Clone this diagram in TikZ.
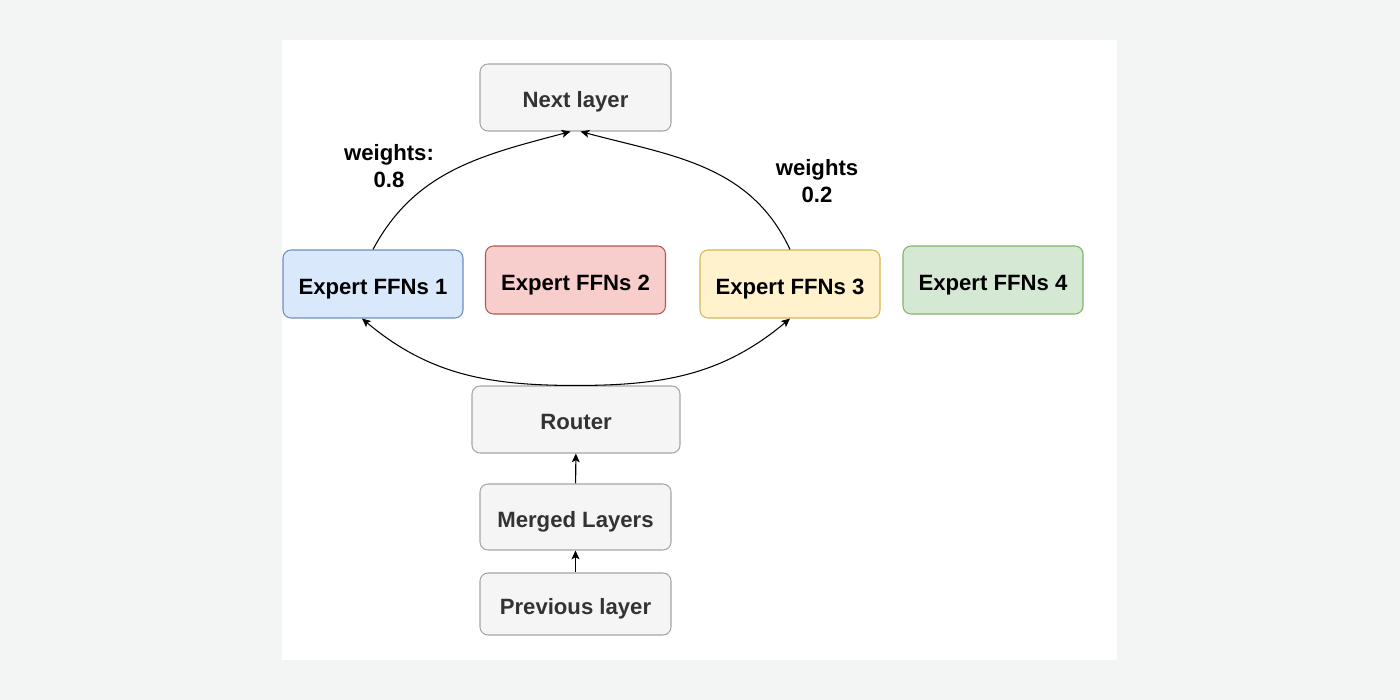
\documentclass[tikz,border=0pt]{standalone}
\usepackage{fontspec}
\setmainfont{Liberation Sans}
\usepackage{tikz}
\usetikzlibrary{positioning}
\usetikzlibrary {arrows.meta}

\definecolor{pagebg}{HTML}{F3F4F4}
\definecolor{greyfill}{HTML}{F5F5F5}
\definecolor{greyline}{HTML}{A6A6A6}
\definecolor{greytext}{HTML}{333333}
\definecolor{bluefill}{HTML}{DAE8FC}
\definecolor{blueline}{HTML}{6C8EBF}
\definecolor{redfill}{HTML}{F8CECC}
\definecolor{redline}{HTML}{B85450}
\definecolor{yellowfill}{HTML}{FFF2CC}
\definecolor{yellowline}{HTML}{D6B656}
\definecolor{greenfill}{HTML}{D5E8D4}
\definecolor{greenline}{HTML}{82B366}

\tikzset{
	box/.style={draw, rounded corners=0.16cm, line width=0.6pt, inner sep=0pt,
		text height=0.42cm, text depth=0pt,
		font=\fontsize{12.6}{15.3}\selectfont\bfseries, minimum height=1.34cm},
	layerbox/.style={box, fill=greyfill, draw=greyline, text=greytext, minimum width=3.82cm},
	expertbox/.style={box, text=black, minimum width=3.6cm, minimum height=1.36cm},
	wlabel/.style={align=center, font=\fontsize{12.6}{15.3}\selectfont\bfseries},
	flow/.style={line width=0.6pt, -{Stealth[length=5pt,width=4.5pt,inset=1.2pt]}}
}

\begin{document}
\begin{tikzpicture}
		\useasboundingbox (0,0) rectangle (28,14);
		\fill[pagebg] (0,0) rectangle (28,14);
		\fill[white] (5.64,0.8) rectangle (22.34,13.2);
		
		\node[layerbox] (next) at (11.51,12.05) {Next layer};
		
		\node[expertbox, fill=bluefill, draw=blueline] (e1) at (7.46,8.32) {Expert FFNs 1};
		\node[expertbox, fill=redfill, draw=redline] (e2) at (11.51,8.40) {Expert FFNs 2};
		\node[expertbox, fill=yellowfill, draw=yellowline] (e3) at (15.80,8.32) {Expert FFNs 3};
		\node[expertbox, fill=greenfill, draw=greenline] (e4) at (19.86,8.40) {Expert FFNs 4};
		
		\node[layerbox, minimum width=4.16cm] (router) at (11.52,5.61) {Router};
		\node[layerbox, minimum height=1.32cm] (merged) at (11.51,3.66) {Merged Layers};
		\node[layerbox, minimum height=1.24cm] (prev) at (11.51,1.92) {Previous layer};
		
		\draw[flow] (prev) -- (merged);
		\draw[flow] (merged) -- (router);
		
		\draw[flow] (router.north) to[out=180,in=-40] ([xshift=-0.22cm]e1.south);
		\draw[flow] (router.north) to[out=0,in=-140] (e3.south);
		
		\draw[flow] (e1.north) to[out=62,in=195] ([xshift=-0.1cm]next.south);
		\draw[flow] (e3.north) to[out=115,in=-15] ([xshift=0.1cm]next.south);
		
		\node[wlabel] (w1) at (7.78,10.68) {weights:\\0.8};
		\node[wlabel] (w3) at (16.34,10.38) {weights\\0.2};
	\end{tikzpicture}
\end{document}
